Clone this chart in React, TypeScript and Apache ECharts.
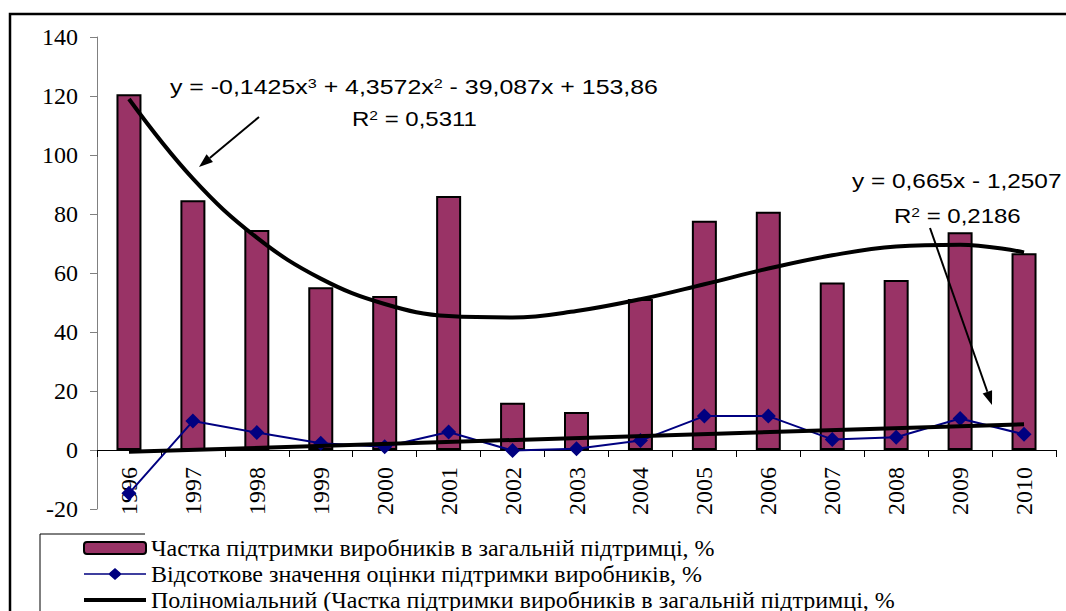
import React, { useEffect, useRef } from "react";
import * as echarts from "echarts";

const years = ["1996", "1997", "1998", "1999", "2000", "2001", "2002", "2003", "2004", "2005", "2006", "2007", "2008", "2009", "2010"];
const producerShare = [120.6, 84.7, 74.6, 55.2, 52.2, 86.1, 16.0, 12.9, 51.2, 77.7, 80.8, 56.8, 57.6, 73.8, 66.7];
const producerEstimate = [-14.7, 9.8, 5.9, 2.3, 1.1, 6.1, -0.2, 0.4, 3.2, 11.5, 11.5, 3.6, 4.3, 10.7, 5.3];
const polyTrend = [119, 92, 72, 58.1, 49.5, 45.4, 44.9, 47.1, 51.1, 56.2, 61.5, 66, 69, 69.6, 67];
const linearTrend = [-0.6, null, null, null, null, null, null, null, null, null, null, null, null, null, 8.7];
const yMin = -20;
const yMax = 140;
const yStep = 20;

const nameShare = "Частка підтримки виробників в загальній підтримці, %";
const nameEstimate = "Відсоткове значення оцінки підтримки виробників, %";
const namePoly = "Поліноміальний (Частка підтримки виробників в загальній підтримці, %";
const nameLinear = "Лінійний (Відсоткове значення оцінки підтримки виробників, %)";

const polyEq = "y = -0,1425x{s|3} + 4,3572x{s|2} - 39,087x + 153,86";
const polyR2 = "R{s|2} = 0,5311";
const linEq = "y = 0,665x - 1,2507";
const linR2 = "R{s|2} = 0,2186";

const SERIF = "Times New Roman, Liberation Serif, Tinos, DejaVu Serif, serif";
const SANS = "Liberation Sans";

function arrow(x1: number, y1: number, x2: number, y2: number) {
  const dx = x2 - x1;
  const dy = y2 - y1;
  const len = Math.sqrt(dx * dx + dy * dy);
  const ux = dx / len;
  const uy = dy / len;
  const hl = 14;
  const hw = 5;
  const bx = x2 - ux * hl;
  const by = y2 - uy * hl;
  const px = -uy * hw;
  const py = ux * hw;
  return [
    { type: "line", shape: { x1, y1, x2: bx, y2: by }, style: { stroke: "#000", lineWidth: 2 }, z: 20 },
    {
      type: "polygon",
      shape: { points: [[x2, y2], [bx + px, by + py], [bx - px, by - py]] },
      style: { fill: "#000" },
      z: 20,
    },
  ];
}

export default function App() {
  const ref = useRef<HTMLDivElement>(null);
  useEffect(() => {
    if (!ref.current) return;
    const chart = echarts.init(ref.current, null, { renderer: "svg" });
    const textEl = (x: number, y: number, text: string, sx: number) => ({
      type: "text",
      x,
      y,
      scaleX: sx,
      style: {
        text,
        fontFamily: SANS,
        fontSize: 20,
        fill: "#000",
        verticalAlign: "middle",
        align: "left",
        rich: { s: { fontFamily: SANS, fontSize: 13, verticalAlign: "top", fill: "#000" } },
      },
      z: 20,
    });
    chart.setOption({
      animation: false,
      backgroundColor: "#fff",
      textStyle: { fontFamily: SERIF },
      grid: { left: 97, right: 10, top: 37, bottom: 102, containLabel: false },
      xAxis: {
        type: "category",
        data: years,
        boundaryGap: true,
        axisLine: { onZero: true, lineStyle: { color: "#000", width: 1 } },
        axisTick: { show: true, length: 7, lineStyle: { color: "#000" } },
        axisLabel: { rotate: 90, margin: -42, fontFamily: SERIF, fontSize: 24, color: "#000" },
        splitLine: { show: false },
      },
      yAxis: {
        type: "value",
        min: yMin,
        max: yMax,
        interval: yStep,
        axisLine: { show: true, lineStyle: { color: "#808080", width: 1 } },
        axisTick: { show: true, length: 7, lineStyle: { color: "#808080" } },
        axisLabel: { margin: 19, fontFamily: SERIF, fontSize: 24, color: "#000" },
        splitLine: { show: false },
      },
      legend: {
        type: "plain",
        orient: "vertical",
        left: 83,
        top: 536,
        height: 200,
        padding: 0,
        itemWidth: 62,
        itemHeight: 12,
        itemGap: 2,
        textStyle: { fontFamily: SERIF, fontSize: 24, color: "#000" },
        data: [
          { name: nameShare },
          {
            name: nameEstimate,
            icon: "path://M0,5.3 L25,5.3 L31,0 L37,5.3 L62,5.3 L62,6.7 L37,6.7 L31,12 L25,6.7 L0,6.7 Z",
            itemStyle: { color: "#000080" },
          },
          { name: namePoly, icon: "path://M0,0 L62,0 L62,4 L0,4 Z", itemStyle: { color: "#000" } },
        ],
      },
      series: [
        {
          name: nameShare,
          type: "bar",
          data: producerShare,
          barWidth: 25,
          itemStyle: { color: "#993366", borderColor: "#000", borderWidth: 2 },
          z: 2,
        },
        {
          name: nameEstimate,
          type: "line",
          data: producerEstimate,
          symbol: "diamond",
          symbolSize: 15,
          lineStyle: { color: "#000080", width: 2 },
          itemStyle: { color: "#000080" },
          z: 3,
        },
        {
          name: namePoly,
          type: "line",
          data: polyTrend,
          smooth: 0.4,
          showSymbol: false,
          symbol: "none",
          lineStyle: { color: "#000", width: 4 },
          itemStyle: { color: "#000" },
          z: 4,
        },
        {
          name: nameLinear,
          type: "line",
          data: linearTrend,
          connectNulls: true,
          showSymbol: false,
          symbol: "none",
          lineStyle: { color: "#000", width: 4 },
          itemStyle: { color: "#000" },
          z: 4,
        },
      ],
      graphic: [
        {
          type: "rect",
          shape: { x: 10, y: 14, width: 1200, height: 800 },
          style: { fill: "none", stroke: "#000", lineWidth: 2.5 },
          z: 30,
          silent: true,
        },
        {
          type: "polyline",
          shape: { points: [[40, 640], [40, 534], [145, 534]] },
          style: { fill: "none", stroke: "#000", lineWidth: 1 },
          z: 30,
          silent: true,
        },
        textEl(170, 87, polyEq, 1.245),
        textEl(352, 119, polyR2, 1.2),
        textEl(852, 181, linEq, 1.22),
        textEl(894, 216, linR2, 1.2),
        ...arrow(259, 117, 199, 167),
        ...arrow(930, 228, 992, 405),
      ],
    });
    return () => chart.dispose();
  }, []);
  return <div ref={ref} style={{ position: "absolute", left: 0, top: 0, width: 1066, height: 611 }} />;
}
